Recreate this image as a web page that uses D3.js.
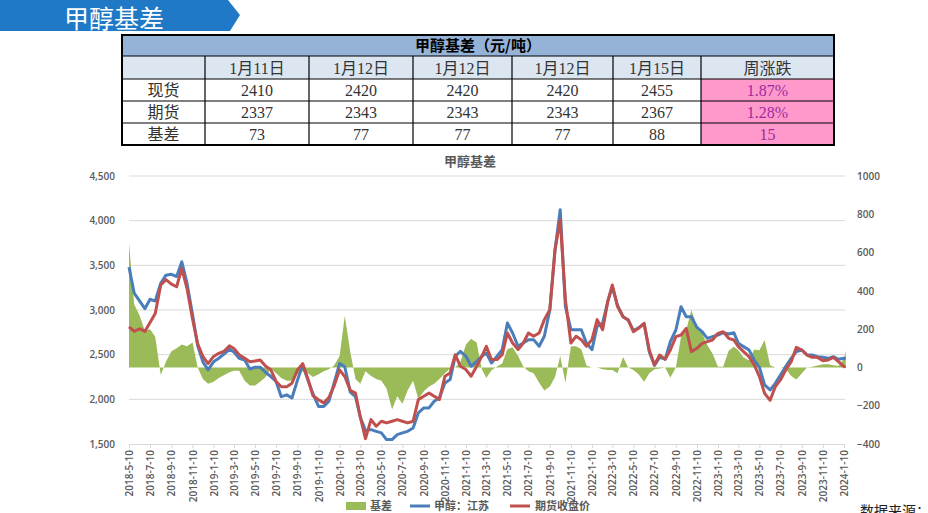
<!DOCTYPE html>
<html>
<head>
<meta charset="utf-8">
<script src="https://d3js.org/d3.v7.min.js"></script>
<style>
    body { margin: 0; background: #fff; overflow: hidden; }
    svg text { font-family: "Noto Sans CJK SC", sans-serif; }
    .tbl text { font-family: "Liberation Serif", "Noto Sans CJK SC", serif; }
    .axis text { font-family: "Open Sans", "Liberation Sans", sans-serif; font-weight: 600; font-size: 10px; fill: #595959; }
    .axis path, .axis line { stroke: #d9d9d9; }
</style>
</head>
<body>
<svg id="chart" width="928" height="513"></svg>
<script>
    // table
    var tableTitle = "甲醇基差（元/吨）";
    var tableDates = ["1月11日", "1月12日", "1月12日", "1月12日", "1月15日"];
    var rowNames = ["现货", "期货", "基差"];
    var spotRow = [2410, 2420, 2420, 2420, 2455];
    var futRow = [2337, 2343, 2343, 2343, 2367];
    var basisRow = [73, 77, 77, 77, 88];
    var weekChange = ["1.87%", "1.28%", "15"];

    // chart series (twice a month)
    var dates = [
        "2018-5-10", "2018-5-25", "2018-6-10", "2018-6-25", "2018-7-10", "2018-7-25", "2018-8-10", "2018-8-25",
        "2018-9-10", "2018-9-25", "2018-10-10", "2018-10-25", "2018-11-10", "2018-11-25", "2018-12-10", "2018-12-25",
        "2019-1-10", "2019-1-25", "2019-2-10", "2019-2-25", "2019-3-10", "2019-3-25", "2019-4-10", "2019-4-25",
        "2019-5-10", "2019-5-25", "2019-6-10", "2019-6-25", "2019-7-10", "2019-7-25", "2019-8-10", "2019-8-25",
        "2019-9-10", "2019-9-25", "2019-10-10", "2019-10-25", "2019-11-10", "2019-11-25", "2019-12-10", "2019-12-25",
        "2020-1-10", "2020-1-25", "2020-2-10", "2020-2-25", "2020-3-10", "2020-3-25", "2020-4-10", "2020-4-25",
        "2020-5-10", "2020-5-25", "2020-6-10", "2020-6-25", "2020-7-10", "2020-7-25", "2020-8-10", "2020-8-25",
        "2020-9-10", "2020-9-25", "2020-10-10", "2020-10-25", "2020-11-10", "2020-11-25", "2020-12-10", "2020-12-25",
        "2021-1-10", "2021-1-25", "2021-2-10", "2021-2-25", "2021-3-10", "2021-3-25", "2021-4-10", "2021-4-25",
        "2021-5-10", "2021-5-25", "2021-6-10", "2021-6-25", "2021-7-10", "2021-7-25", "2021-8-10", "2021-8-25",
        "2021-9-10", "2021-9-25", "2021-10-10", "2021-10-25", "2021-11-10", "2021-11-25", "2021-12-10", "2021-12-25",
        "2022-1-10", "2022-1-25", "2022-2-10", "2022-2-25", "2022-3-10", "2022-3-25", "2022-4-10", "2022-4-25",
        "2022-5-10", "2022-5-25", "2022-6-10", "2022-6-25", "2022-7-10", "2022-7-25", "2022-8-10", "2022-8-25",
        "2022-9-10", "2022-9-25", "2022-10-10", "2022-10-25", "2022-11-10", "2022-11-25", "2022-12-10", "2022-12-25",
        "2023-1-10", "2023-1-25", "2023-2-10", "2023-2-25", "2023-3-10", "2023-3-25", "2023-4-10", "2023-4-25",
        "2023-5-10", "2023-5-25", "2023-6-10", "2023-6-25", "2023-7-10", "2023-7-25", "2023-8-10", "2023-8-25",
        "2023-9-10", "2023-9-25", "2023-10-10", "2023-10-25", "2023-11-10", "2023-11-25", "2023-12-10", "2023-12-25",
        "2024-1-10", "2024-1-15"
    ];
    // 甲醇：江苏
    var spot = [
        3480, 3190, 3100, 3015, 3120, 3100, 3300, 3390, 3400, 3375, 3540, 3300, 2950, 2600, 2420, 2330,
        2420, 2460, 2510, 2560, 2530, 2460, 2440, 2340, 2360, 2360, 2300, 2255, 2200, 2030, 2050, 2015,
        2215, 2385, 2220, 2060, 1920, 1920, 1980, 2180, 2400, 2365, 2080, 2030, 1800, 1650, 1661, 1642,
        1624, 1549, 1549, 1605, 1624, 1642, 1680, 1848, 1904, 1904, 1979, 2016, 2183, 2221, 2482, 2538,
        2482, 2370, 2426, 2482, 2519, 2407, 2482, 2556, 2855, 2743, 2594, 2631, 2668, 2668, 2594, 2706,
        3004, 3675, 4123, 3041, 2780, 2780, 2780, 2631, 2556, 2818, 2855, 3100, 3260, 3050, 2925, 2888,
        2770, 2800, 2850, 2530, 2380, 2470, 2450, 2645, 2776, 3037, 2925, 2925, 2806, 2757, 2683, 2702,
        2720, 2746, 2731, 2746, 2627, 2590, 2552, 2440, 2358, 2161, 2105, 2179, 2273, 2366, 2459, 2534,
        2552, 2496, 2496, 2478, 2470, 2459, 2478, 2448, 2459, 2455
    ];
    // 期货收盘价
    var futures = [
        2810, 2760, 2790, 2760, 2860, 2960, 3280, 3340, 3290, 3260, 3465, 3240, 2900, 2620, 2480, 2400,
        2480, 2515, 2540, 2600, 2570, 2500, 2460, 2420, 2430, 2440, 2370, 2330, 2200, 2140, 2140, 2180,
        2330, 2400, 2230, 2040, 1995, 1960, 2020, 2150, 2330, 2255, 2100, 2070, 1800, 1560, 1773, 1699,
        1755, 1736, 1755, 1773, 1755, 1736, 1755, 1997, 2034, 2072, 2034, 1997, 2258, 2295, 2500, 2370,
        2333, 2258, 2370, 2482, 2594, 2445, 2445, 2500, 2743, 2631, 2556, 2631, 2743, 2706, 2743, 2892,
        3004, 3675, 4011, 3116, 2631, 2706, 2668, 2594, 2668, 2892, 2780, 3100, 3280, 3040, 2925, 2888,
        2757, 2795, 2850, 2552, 2385, 2496, 2448, 2552, 2702, 2720, 2795, 2534, 2571, 2627, 2646, 2664,
        2739, 2757, 2683, 2664, 2590, 2534, 2478, 2385, 2254, 2067, 1990, 2142, 2217, 2329, 2422, 2582,
        2552, 2496, 2470, 2470, 2433, 2440, 2470, 2422, 2366, 2367
    ];
    // 基差 (right axis)
    var basis = [
        650, 330, 270, 191, 200, 160, -40, 30, 85, 100, 120, 110, 130, 0, -60, -85,
        -75, -55, -40, -25, -17, -17, -70, -95, -95, -75, -50, -5, -30, -55, -70, -70,
        -35, -20, -30, -50, -35, -20, -10, 10, 60, 270, 80, -60, -85, -20, -45, -60,
        -70, -110, -220, -150, -190, -120, -70, -165, -125, -100, -85, -60, -30, -5, 0, 30,
        120, 150, 130, -10, -55, -15, 5, 20, 95, 105, 60, 5, -20, -30, -80, -120,
        -100, -50, 60, -80, 110, 110, 95, 10, 0, 0, -10, -14, -14, -30, 55, 0,
        -14, -35, -75, -30, -9, -5, 0, -52, 0, 160, 195, 300, 212, 177, 117, 73,
        3, 3, 87, 108, 90, 52, 38, 94, 90, 143, 12, 0, 0, -7, -45, -63,
        -31, 0, 3, 10, 17, 17, 12, 7, 47, 88
    ];

    var xTickLabels = [
        "2018-5-10", "2018-7-10", "2018-9-10", "2018-11-10", "2019-1-10", "2019-3-10", "2019-5-10", "2019-7-10",
        "2019-9-10", "2019-11-10", "2020-1-10", "2020-3-10", "2020-5-10", "2020-7-10", "2020-9-10", "2020-11-10",
        "2021-1-10", "2021-3-10", "2021-5-10", "2021-7-10", "2021-9-10", "2021-11-10", "2022-1-10", "2022-3-10",
        "2022-5-10", "2022-7-10", "2022-9-10", "2022-11-10", "2023-1-10", "2023-3-10", "2023-5-10", "2023-7-10",
        "2023-9-10", "2023-11-10", "2024-1-10"
    ];
    var leftTicks = [1500, 2000, 2500, 3000, 3500, 4000, 4500];
    var rightTicks = [-400, -200, 0, 200, 400, 600, 800, 1000];

    var parseDate = d3.timeParse("%Y-%m-%d");
    var svg = d3.select("#chart");

    // banner
    svg.append("polygon")
        .attr("points", "0,0 228,0 240,15 230,31 0,31")
        .attr("fill", "#2079c7");
    svg.append("text")
        .attr("x", 64).attr("y", 28)
        .attr("fill", "#fff")
        .style("font-size", "25px")
        .text("甲醇基差");

    drawTable();
    drawChart();

    function drawTable() {
        var colX = [122, 205, 309, 413, 512, 613, 701, 834];
        var rowY = [35, 56, 79, 101, 123, 145];
        var g = svg.append("g").attr("class", "tbl");

        g.append("rect").attr("x", colX[0]).attr("y", rowY[0])
            .attr("width", colX[7] - colX[0]).attr("height", rowY[1] - rowY[0]).attr("fill", "#95b3d7");
        g.append("rect").attr("x", colX[0]).attr("y", rowY[1])
            .attr("width", colX[7] - colX[0]).attr("height", rowY[2] - rowY[1]).attr("fill", "#dce6f1");
        g.append("rect").attr("x", colX[6]).attr("y", rowY[2])
            .attr("width", colX[7] - colX[6]).attr("height", rowY[5] - rowY[2]).attr("fill", "#ff99cc");

        // grid
        rowY.slice(1, 5).forEach(y => {
            g.append("line").attr("x1", colX[0]).attr("x2", colX[7]).attr("y1", y).attr("y2", y)
                .attr("stroke", "#000").attr("stroke-width", 1.2);
        });
        colX.slice(1, 7).forEach(x => {
            g.append("line").attr("x1", x).attr("x2", x).attr("y1", rowY[1]).attr("y2", rowY[5])
                .attr("stroke", "#000").attr("stroke-width", 1.2);
        });
        g.append("rect").attr("x", colX[0]).attr("y", rowY[0])
            .attr("width", colX[7] - colX[0]).attr("height", rowY[5] - rowY[0])
            .attr("fill", "none").attr("stroke", "#000").attr("stroke-width", 2);

        g.append("text")
            .attr("x", (colX[0] + colX[7]) / 2).attr("y", rowY[0] + 16)
            .attr("text-anchor", "middle")
            .style("font-size", "15px").style("font-weight", "bold")
            .style("font-family", "'Noto Sans CJK SC', sans-serif")
            .text(tableTitle);

        var header = tableDates.concat(["周涨跌"]);
        header.forEach((t, i) => {
            cell(i + 1, 1, t, "#333");
        });
        var rows = [spotRow, futRow, basisRow];
        rows.forEach((r, j) => {
            cell(0, j + 2, rowNames[j], "#333");
            r.forEach((v, i) => cell(i + 1, j + 2, v, "#333"));
            cell(6, j + 2, weekChange[j], "#9c2b9c");
        });

        function cell(c, r, t, color) {
            g.append("text")
                .attr("x", (colX[c] + colX[c + 1]) / 2)
                .attr("y", (rowY[r] + rowY[r + 1]) / 2 + 6)
                .attr("text-anchor", "middle")
                .attr("fill", color)
                .style("font-size", "16px")
                .text(t);
        }
    }

    function drawChart() {
        var x = d3.scaleTime()
            .domain([parseDate("2018-5-10"), parseDate("2024-1-10")])
            .range([129, 844]);
        var yL = d3.scaleLinear().domain([1500, 4500]).range([444, 176]);
        var yR = d3.scaleLinear().domain([-400, 1000]).range([444, 176]);

        var data = dates.map((d, i) => ({ date: parseDate(d), s: spot[i], f: futures[i], b: basis[i] }));

        svg.append("text")
            .attr("x", 470).attr("y", 166)
            .attr("text-anchor", "middle")
            .attr("fill", "#595959")
            .style("font-size", "13px").style("font-weight", "bold")
            .text("甲醇基差");

        // gridlines
        svg.append("g").selectAll("line")
            .data(leftTicks.slice(1))
            .enter().append("line")
            .attr("x1", 129).attr("x2", 845)
            .attr("y1", d => yL(d)).attr("y2", d => yL(d))
            .attr("stroke", "#d9d9d9");

        var xAxis = svg.append("g").attr("class", "axis")
            .attr("transform", "translate(0,444)")
            .call(d3.axisBottom(x)
                .tickValues(xTickLabels.map(parseDate))
                .tickFormat((d, i) => xTickLabels[i])
                .tickSize(4).tickSizeOuter(0));
        xAxis.selectAll("text")
            .attr("transform", "rotate(-90)")
            .attr("x", -6).attr("y", 0).attr("dy", "0.35em")
            .style("text-anchor", "end");

        svg.append("g").attr("class", "axis")
            .attr("transform", "translate(129,0)")
            .call(d3.axisLeft(yL).tickValues(leftTicks).tickFormat(d3.format(",")).tickSize(0).tickPadding(14))
            .call(g => g.select(".domain").remove());

        svg.append("g").attr("class", "axis")
            .attr("transform", "translate(845,0)")
            .call(d3.axisRight(yR).tickValues(rightTicks).tickFormat(d3.format("d")).tickSize(0).tickPadding(12))
            .call(g => g.select(".domain").remove());

        // basis area
        svg.append("path")
            .datum(data)
            .attr("fill", "#9bbb59")
            .attr("d", d3.area().x(d => x(d.date)).y0(yR(0)).y1(d => yR(d.b)));

        svg.append("path")
            .datum(data)
            .attr("fill", "none").attr("stroke", "#4a7ebb").attr("stroke-width", 3)
            .attr("stroke-linejoin", "round")
            .attr("d", d3.line().x(d => x(d.date)).y(d => yL(d.s)));

        svg.append("path")
            .datum(data)
            .attr("fill", "none").attr("stroke", "#c0504d").attr("stroke-width", 3)
            .attr("stroke-linejoin", "round")
            .attr("d", d3.line().x(d => x(d.date)).y(d => yL(d.f)));

        // legend
        var lg = svg.append("g").style("font-size", "11px").style("font-weight", "bold").attr("fill", "#595959");
        lg.append("rect").attr("x", 346).attr("y", 502).attr("width", 20).attr("height", 8).attr("fill", "#9bbb59");
        lg.append("text").attr("x", 370).attr("y", 510).text("基差");
        lg.append("line").attr("x1", 410).attr("x2", 430).attr("y1", 506).attr("y2", 506)
            .attr("stroke", "#4a7ebb").attr("stroke-width", 3);
        lg.append("text").attr("x", 434).attr("y", 510).text("甲醇：江苏");
        lg.append("line").attr("x1", 510).attr("x2", 530).attr("y1", 506).attr("y2", 506)
            .attr("stroke", "#c0504d").attr("stroke-width", 3);
        lg.append("text").attr("x", 535).attr("y", 510).text("期货收盘价");

        svg.append("text")
            .attr("x", 860).attr("y", 516)
            .attr("fill", "#222")
            .style("font-size", "14px")
            .style("font-family", "'Liberation Serif', 'Noto Sans CJK SC', serif")
            .text("数据来源：");
    }
</script>
</body>
</html>
